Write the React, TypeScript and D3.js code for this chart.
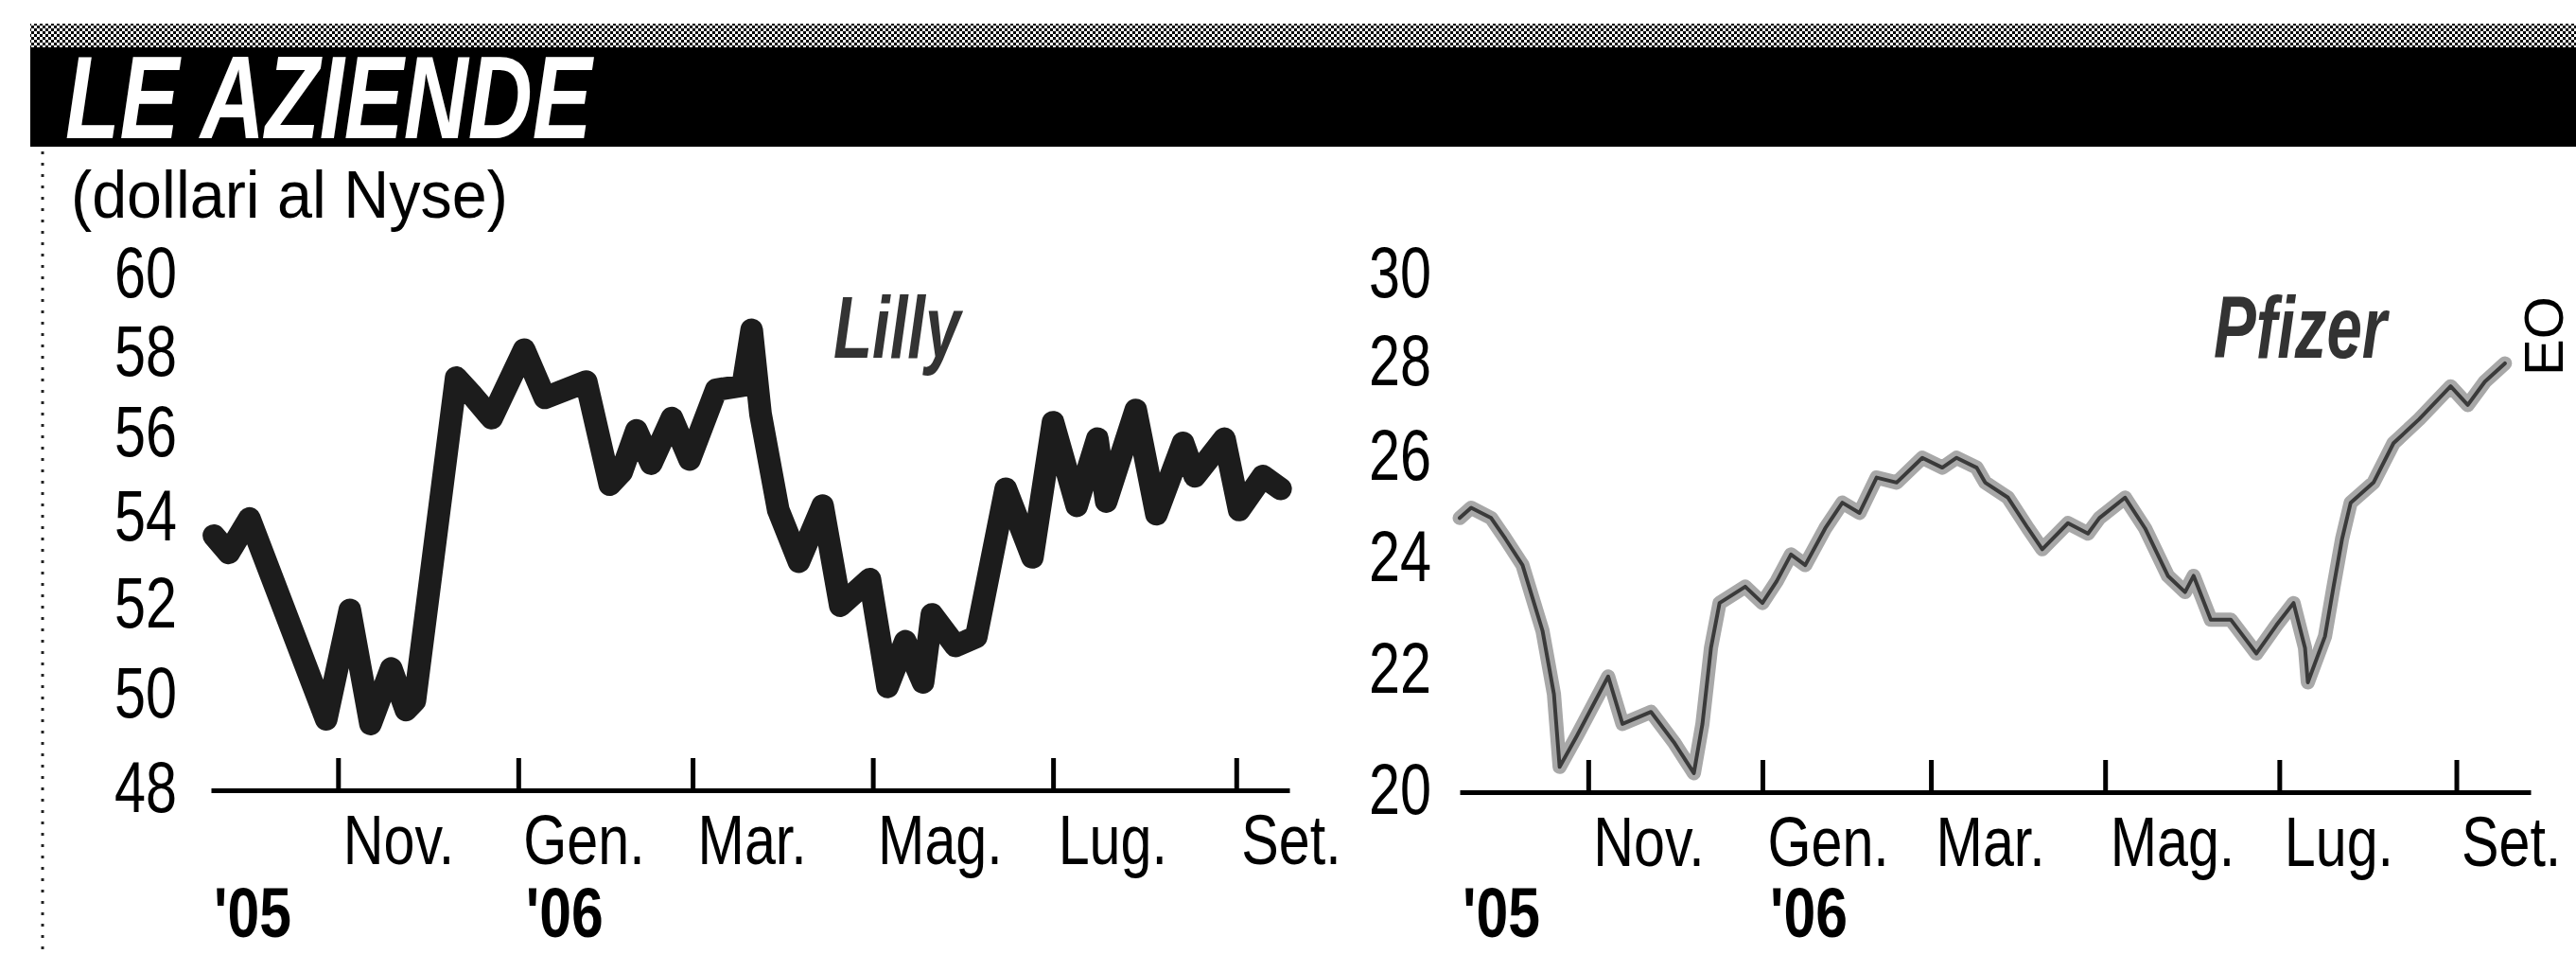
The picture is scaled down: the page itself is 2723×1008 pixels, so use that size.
// App.tsx
import React, { useEffect, useRef } from 'react';
import * as d3 from 'd3';

// Lilly, closing prices (dollari al Nyse)
const lillyDates = [
  '2005-09-20', '2005-09-25', '2005-10-02', '2005-10-28', '2005-11-05', '2005-11-12',
  '2005-11-19', '2005-11-24', '2005-11-27', '2005-12-11', '2005-12-16', '2005-12-23',
  '2006-01-03', '2006-01-10', '2006-01-24', '2006-02-01', '2006-02-05', '2006-02-10',
  '2006-02-15', '2006-02-22', '2006-02-28', '2006-03-09', '2006-03-18', '2006-03-21',
  '2006-03-24', '2006-03-30', '2006-04-06', '2006-04-14', '2006-04-20', '2006-04-30',
  '2006-05-06', '2006-05-12', '2006-05-18', '2006-05-21', '2006-05-29', '2006-06-05',
  '2006-06-15', '2006-06-24', '2006-07-01', '2006-07-09', '2006-07-16', '2006-07-19',
  '2006-07-29', '2006-08-05', '2006-08-14', '2006-08-18', '2006-08-28', '2006-09-02',
  '2006-09-10', '2006-09-16',
];
const lillyValues = [
  53.6, 53.2, 54.0, 49.5, 51.9, 49.4,
  50.6, 49.7, 49.9, 57.4, 57.0, 56.4,
  58.1, 56.9, 57.3, 54.8, 55.1, 56.1,
  55.3, 56.4, 55.4, 57.1, 57.2, 58.6,
  56.5, 54.2, 53.0, 54.3, 52.0, 52.6,
  50.2, 51.2, 50.3, 51.8, 51.1, 51.3,
  54.7, 53.1, 56.3, 54.3, 55.9, 54.4,
  56.6, 54.1, 55.8, 55.0, 55.9, 54.2,
  55.0, 54.7,
];

// Pfizer
const pfizerDates = [
  '2005-09-17', '2005-09-21', '2005-09-28', '2005-10-03', '2005-10-09', '2005-10-16',
  '2005-10-20', '2005-10-22', '2005-10-28', '2005-11-08', '2005-11-13', '2005-11-23',
  '2005-12-01', '2005-12-08', '2005-12-11', '2005-12-14', '2005-12-17', '2005-12-26',
  '2006-01-01', '2006-01-06', '2006-01-11', '2006-01-16', '2006-01-23', '2006-01-29',
  '2006-02-04', '2006-02-10', '2006-02-17', '2006-02-26', '2006-03-05', '2006-03-10',
  '2006-03-17', '2006-03-20', '2006-03-28', '2006-04-04', '2006-04-09', '2006-04-18',
  '2006-04-25', '2006-04-29', '2006-05-08', '2006-05-15', '2006-05-23', '2006-05-29',
  '2006-06-01', '2006-06-07', '2006-06-14', '2006-06-23', '2006-06-30', '2006-07-06',
  '2006-07-10', '2006-07-11', '2006-07-17', '2006-07-20', '2006-07-23', '2006-07-26',
  '2006-08-03', '2006-08-10', '2006-08-19', '2006-08-30', '2006-09-05', '2006-09-11',
  '2006-09-18',
];
const pfizerValues = [
  24.8, 25.0, 24.8, 24.4, 23.9, 22.7,
  21.6, 20.4, 20.9, 21.9, 21.1, 21.3,
  20.8, 20.3, 21.1, 22.4, 23.2, 23.5,
  23.2, 23.6, 24.1, 23.9, 24.6, 25.1,
  24.9, 25.6, 25.5, 26.0, 25.8, 26.0,
  25.8, 25.5, 25.2, 24.6, 24.2, 24.7,
  24.5, 24.8, 25.2, 24.6, 23.7, 23.4,
  23.7, 22.9, 22.9, 22.3, 22.8, 23.2,
  22.4, 21.8, 22.6, 23.5, 24.4, 25.1,
  25.5, 26.3, 26.8, 27.5, 27.1, 27.6,
  28.0,
];

const tickDates = ['2005-11-01', '2006-01-01', '2006-03-01', '2006-05-01', '2006-07-01', '2006-09-01'];
const monthLabels = ['Nov.', 'Gen.', 'Mar.', 'Mag.', 'Lug.', 'Set.'];
const yearDates = ['2005-09-01', '2006-01-01'];
const yearLabels = ["'05", "'06"];
const lillyTicks = [48, 50, 52, 54, 56, 58, 60];
const pfizerTicks = [20, 22, 24, 26, 28, 30];

const W = 2723;
const H = 1008;
const FONT = "'Liberation Sans', Arial, Helvetica, sans-serif";
const parse = d3.timeParse('%Y-%m-%d');

const panels = [
  {
    name: 'Lilly', dates: lillyDates, values: lillyValues, ticks: lillyTicks, domain: [48, 60],
    start: '2005-09-19', end: '2006-09-19', left: 223, right: 1363, bottom: 835, top: 291,
    pad: 36, labelX: 881, thick: true,
  },
  {
    name: 'Pfizer', dates: pfizerDates, values: pfizerValues, ticks: pfizerTicks, domain: [20, 30],
    start: '2005-09-17', end: '2006-09-27', left: 1543, right: 2675, bottom: 837, top: 291,
    pad: 30, labelX: 2340, thick: false,
  },
];

const App = () => {
  const ref = useRef<SVGSVGElement>(null);

  useEffect(() => {
    if (!ref.current) return;
    const svg = d3.select(ref.current);
    svg.selectAll('*').remove();

    // halftone pattern for the strip above the title bar
    const pat = svg.append('defs').append('pattern')
      .attr('id', 'ht').attr('width', 6).attr('height', 6)
      .attr('patternUnits', 'userSpaceOnUse');
    pat.append('rect').attr('width', 6).attr('height', 6).attr('fill', '#fff');
    pat.append('rect').attr('width', 3).attr('height', 3).attr('fill', '#000');
    pat.append('rect').attr('x', 3).attr('y', 3).attr('width', 3).attr('height', 3).attr('fill', '#000');

    svg.append('rect').attr('width', W).attr('height', H).attr('fill', '#fff');

    // title bar
    svg.append('rect').attr('x', 32).attr('y', 25).attr('width', W - 32).attr('height', 26).attr('fill', 'url(#ht)');
    svg.append('rect').attr('x', 32).attr('y', 50).attr('width', W - 32).attr('height', 105).attr('fill', '#000');

    const txt = (x: number, y: number, s: string, size: number, sx: number) =>
      svg.append('text')
        .attr('transform', `translate(${x},${y}) scale(${sx},1)`)
        .attr('font-family', FONT)
        .attr('font-size', size)
        .attr('fill', '#000')
        .text(s);

    txt(69, 146, 'LE AZIENDE', 124, 0.76)
      .attr('font-weight', 900).attr('font-style', 'italic').attr('fill', '#fff');
    txt(75, 230, '(dollari al Nyse)', 70, 0.95);

    // dotted column rule on the left
    svg.append('line')
      .attr('x1', 45).attr('x2', 45).attr('y1', 160).attr('y2', H)
      .attr('stroke', '#222').attr('stroke-width', 3).attr('stroke-dasharray', '3 9');

    // vertical text at the right border
    svg.append('text')
      .attr('transform', 'translate(2709,397) rotate(-90)')
      .attr('font-family', FONT).attr('font-size', 58).attr('fill', '#000')
      .text('EO');

    panels.forEach(p => {
      const x = d3.scaleTime()
        .domain([parse(p.start) as Date, parse(p.end) as Date])
        .range([p.left, p.right]);
      const y = d3.scaleLog().domain(p.domain).range([p.bottom, p.top]);

      // month axis with upward ticks
      const gx = svg.append('g')
        .attr('transform', `translate(0,${p.bottom})`)
        .call(
          d3.axisBottom(x)
            .tickValues(tickDates.map(d => parse(d) as Date))
            .tickSizeInner(-34)
            .tickSizeOuter(0)
            .tickFormat((_d, i) => monthLabels[i])
        );
      gx.select('.domain').attr('stroke', '#000').attr('stroke-width', 5);
      gx.selectAll('.tick line').attr('stroke', '#000').attr('stroke-width', 5);
      gx.selectAll('.tick text')
        .attr('y', 0).attr('dy', null)
        .attr('text-anchor', 'start')
        .attr('transform', 'translate(5,78) scale(0.8,1)')
        .attr('font-size', 74).attr('font-family', FONT).attr('fill', '#000');

      // year labels
      yearDates.forEach((d, i) => {
        const xd = Math.max(x(parse(d) as Date), p.left);
        txt(xd + (i === 0 ? 3 : 8), 990, yearLabels[i], 74, 0.82).attr('font-weight', 'bold');
      });

      // price labels (no axis line)
      svg.append('g').selectAll('text')
        .data(p.ticks)
        .join('text')
        .attr('transform', d => `translate(${p.left - p.pad},${y(d) + 23}) scale(0.78,1)`)
        .attr('text-anchor', 'end')
        .attr('font-family', FONT).attr('font-size', 76).attr('fill', '#000')
        .text(d => d);

      // price line
      const pts: [Date, number][] = p.dates.map((d, i) => [parse(d) as Date, p.values[i]]);
      const line = d3.line<[Date, number]>().x(d => x(d[0])).y(d => y(d[1]));
      if (p.thick) {
        svg.append('path').attr('d', line(pts))
          .attr('fill', 'none').attr('stroke', '#1c1c1c').attr('stroke-width', 24)
          .attr('stroke-linejoin', 'round').attr('stroke-linecap', 'round');
      } else {
        svg.append('path').attr('d', line(pts))
          .attr('fill', 'none').attr('stroke', '#a8a8a8').attr('stroke-width', 15)
          .attr('stroke-linejoin', 'round').attr('stroke-linecap', 'round');
        svg.append('path').attr('d', line(pts))
          .attr('fill', 'none').attr('stroke', '#3a3a3a').attr('stroke-width', 4)
          .attr('stroke-linejoin', 'round').attr('stroke-linecap', 'round');
      }

      // company name
      txt(p.labelX, 378, p.name, 92, 0.73)
        .attr('font-weight', 'bold').attr('font-style', 'italic').attr('fill', '#333');
    });
  }, []);

  return (
    <svg
      ref={ref}
      width={W}
      height={H}
      style={{ position: 'absolute', left: 0, top: 0, display: 'block' }}
    />
  );
};

export default App;
